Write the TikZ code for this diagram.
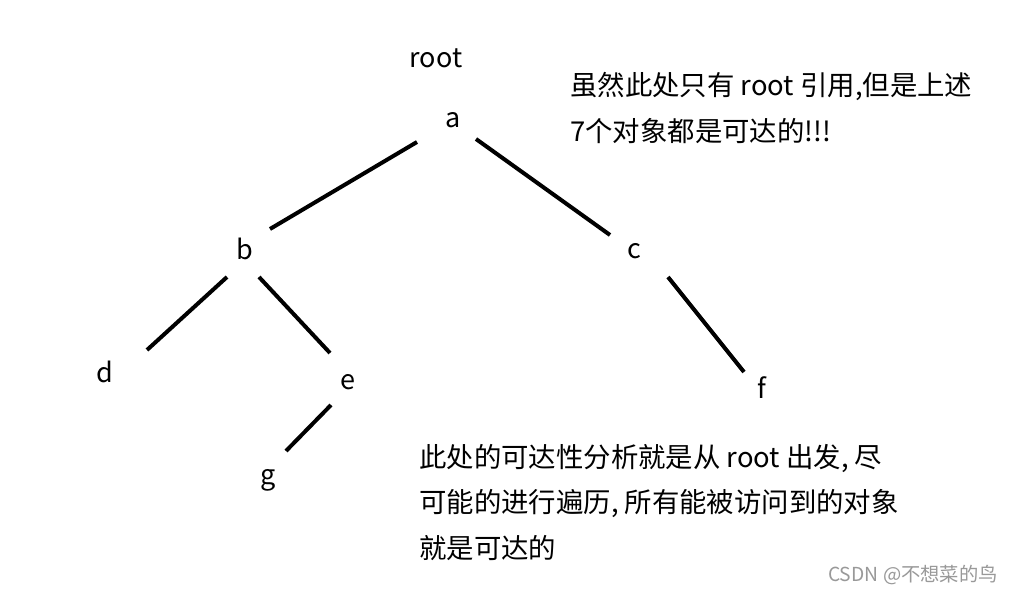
\documentclass[tikz,border=0pt]{standalone}
\usepackage{fontspec}
\setmainfont{Noto Sans CJK SC}
\begin{document}
\begin{tikzpicture}[x=1pt,y=-1pt,
  lbl/.style={font=\fontsize{27}{27}\selectfont, inner sep=0pt},
  para/.style={font=\fontsize{27.4}{27.4}\selectfont, inner sep=0pt, anchor=west},
  edge/.style={line width=4pt}]
\useasboundingbox[fill=white] (0,0) rectangle (1013,593);
% labels
\node[lbl] (root) at (436,58) {root};
\node[lbl] (a) at (453,120) {a};
\node[lbl] (b) at (245,249) {b};
\node[lbl] (c) at (634,251) {c};
\node[lbl] (d) at (105,372) {d};
\node[lbl] (e) at (348,382) {e};
\node[lbl] (f) at (762,388) {f};
\node[lbl] (g) at (268,480) {g};
% edge endpoints
\coordinate (ab1) at (417,142); \coordinate (ab2) at (270,229);
\coordinate (ac1) at (476,139); \coordinate (ac2) at (610,235);
\coordinate (bd1) at (227,277); \coordinate (bd2) at (147,350);
\coordinate (be1) at (259,277); \coordinate (be2) at (330,353);
\coordinate (eg1) at (331,405); \coordinate (eg2) at (286,451);
\coordinate (cf1) at (668,277); \coordinate (cf2) at (744,372);
\draw[edge] (ab1) -- (ab2);
\draw[edge] (ac1) -- (ac2);
\draw[edge] (bd1) -- (bd2);
\draw[edge] (be1) -- (be2);
\draw[edge] (eg1) -- (eg2);
\draw[edge] (cf1) -- (cf2);
% notes
\node[para] (t1) at (570,86) {虽然此处只有 root 引用,但是上述};
\node[para] (t2) at (570,131) {7个对象都是可达的!!!};
\node[para] (u1) at (419,459) {此处的可达性分析就是从 root 出发, 尽};
\node[para] (u2) at (419,504) {可能的进行遍历, 所有能被访问到的对象};
\node[para] (u3) at (419,548) {就是可达的};
\node[font=\fontsize{19.3}{19.3}\selectfont, text=black!40, inner sep=0pt, anchor=west] (wm) at (828,575) {CSDN @不想菜的鸟};
\end{tikzpicture}
\end{document}
